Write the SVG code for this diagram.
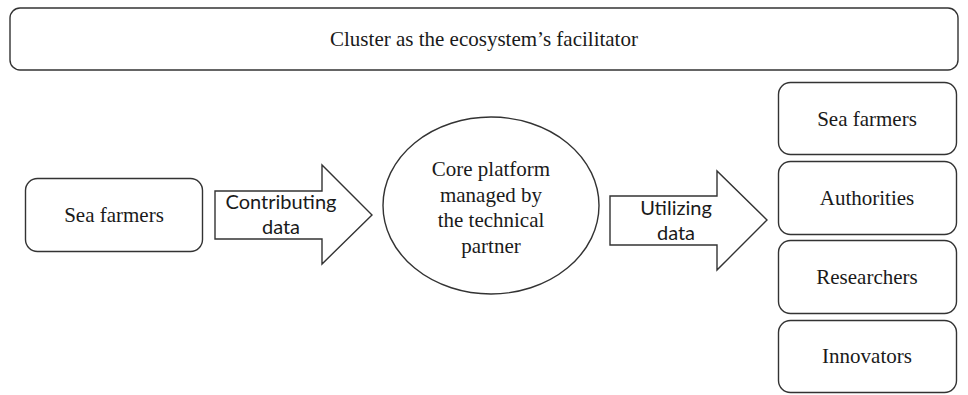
<svg xmlns="http://www.w3.org/2000/svg" width="968" height="395" viewBox="0 0 968 395">
<style>
.box{fill:#fff;stroke:#333;stroke-width:1.4}
.arrow{fill:#fff;stroke:#333;stroke-width:1.4;stroke-linejoin:miter}
.serif{font-family:"Liberation Serif","Times New Roman",serif;font-size:21px;fill:#1a1a1a;text-anchor:middle}
.sans{font-family:Lato,"Liberation Sans",sans-serif;font-size:20px;fill:#1a1a1a;text-anchor:middle}
</style>
<rect width="968" height="395" fill="#fff"/>
<g id="cluster">
<rect class="box" x="10" y="8" width="948" height="62" rx="10"/>
<text class="serif" x="484" y="46">Cluster as the ecosystem’s facilitator</text>
</g>
<g id="sea-farmers-left">
<rect class="box" x="25.5" y="178.5" width="177" height="73" rx="12"/>
<text class="serif" x="114" y="222">Sea farmers</text>
</g>
<g id="core-platform">
<ellipse class="box" cx="491" cy="205.5" rx="108" ry="88.5"/>
<text class="serif" x="491" y="176">Core platform</text>
<text class="serif" x="491" y="202">managed by</text>
<text class="serif" x="491" y="227">the technical</text>
<text class="serif" x="491" y="253">partner</text>
</g>
<g id="connectors">
<g id="contributing-data">
<polygon class="arrow" points="215,191 322,191 322,165 372,215 322,264 322,239 215,239"/>
<text class="sans" x="281" y="209">Contributing</text>
<text class="sans" x="281" y="234">data</text>
</g>
<g id="utilizing-data">
<polygon class="arrow" points="610,196 717,196 717,171 767,220 717,270 717,245 610,245"/>
<text class="sans" x="676" y="215">Utilizing</text>
<text class="sans" x="676" y="240">data</text>
</g>
</g>
<g id="sea-farmers-right">
<rect class="box" x="778.5" y="82.5" width="178" height="72" rx="12"/>
<text class="serif" x="867" y="126">Sea farmers</text>
</g>
<g id="authorities">
<rect class="box" x="778.5" y="161.5" width="178" height="73" rx="12"/>
<text class="serif" x="867" y="205">Authorities</text>
</g>
<g id="researchers">
<rect class="box" x="778.5" y="240.5" width="178" height="73" rx="12"/>
<text class="serif" x="867" y="284">Researchers</text>
</g>
<g id="innovators">
<rect class="box" x="778.5" y="320.5" width="178" height="72" rx="12"/>
<text class="serif" x="867" y="363">Innovators</text>
</g>
</svg>
